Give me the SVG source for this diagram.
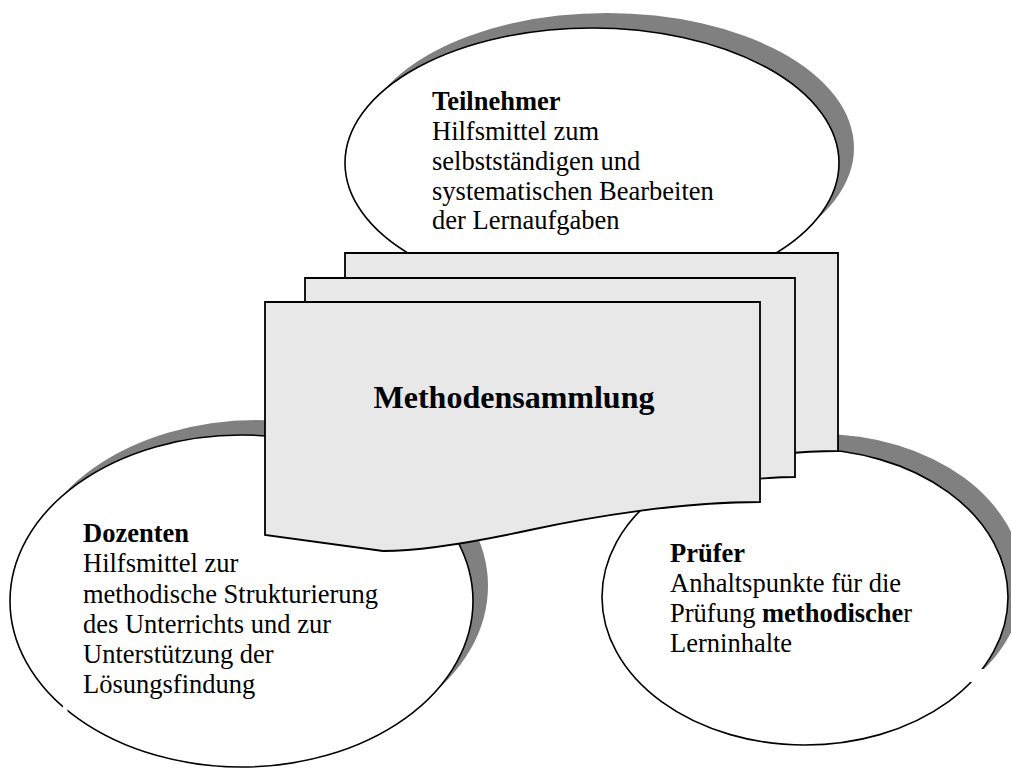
<svg xmlns="http://www.w3.org/2000/svg" width="1011" height="769" viewBox="0 0 1011 769">
  <style>
    .shadow { fill: #808080; stroke: none; }
    .bubble { fill: #ffffff; stroke: #000000; stroke-width: 1.6; }
    .sheet { fill: #e8e8e8; stroke: #000000; stroke-width: 1.8; stroke-linejoin: miter; }
    .txt { font-family: "Liberation Serif", "Times New Roman", serif; font-size: 26.5px; fill: #000000; }
    .b { font-weight: bold; }
    .title { font-family: "Liberation Serif", "Times New Roman", serif; font-size: 32px; font-weight: bold; fill: #000000; }
    .gap { fill: #ffffff; stroke: none; }
  </style>
  <rect x="0" y="0" width="1011" height="769" fill="#ffffff"/>

  <!-- Teilnehmer bubble (top) -->
  <g id="node-teilnehmer">
    <ellipse class="shadow" cx="607" cy="148" rx="247" ry="135"/>
    <ellipse class="bubble" cx="592" cy="163" rx="247" ry="135"/>
    <text class="txt" x="432" y="110"><tspan class="b">Teilnehmer</tspan></text>
    <text class="txt" x="432" y="140">Hilfsmittel zum</text>
    <text class="txt" x="432" y="170">selbstständigen und</text>
    <text class="txt" x="432" y="200">systematischen Bearbeiten</text>
    <text class="txt" x="432" y="229">der Lernaufgaben</text>
  </g>

  <!-- Dozenten bubble (bottom left) -->
  <g id="node-dozenten">
    <ellipse class="shadow" cx="256.5" cy="586" rx="231.5" ry="166"/>
    <ellipse class="bubble" cx="241.5" cy="601" rx="231.5" ry="166"/>
    <rect class="gap" x="63" y="706" width="4.5" height="16"/>
    <text class="txt" x="83" y="542"><tspan class="b">Dozenten</tspan></text>
    <text class="txt" x="83" y="572">Hilfsmittel zur</text>
    <text class="txt" x="83" y="603">methodische Strukturierung</text>
    <text class="txt" x="83" y="633">des Unterrichts und zur</text>
    <text class="txt" x="83" y="663">Unterstützung der</text>
    <text class="txt" x="83" y="693">Lösungsfindung</text>
  </g>

  <!-- Prüfer bubble (bottom right) -->
  <g id="node-pruefer">
    <ellipse class="shadow" cx="820" cy="582" rx="203" ry="148"/>
    <ellipse class="bubble" cx="805" cy="597" rx="203" ry="148"/>
    <rect class="gap" x="962" y="669" width="49" height="13"/>
    <text class="txt" x="670" y="562"><tspan class="b">Prüfer</tspan></text>
    <text class="txt" x="670" y="592">Anhaltspunkte für die</text>
    <text class="txt" x="670" y="622">Prüfung <tspan class="b">methodische</tspan>r</text>
    <text class="txt" x="670" y="652">Lerninhalte</text>
  </g>

  <!-- Methodensammlung: stacked document sheets -->
  <g id="node-methodensammlung">
    <path class="sheet" d="M345,253 H838 V451 C820,451 800,452 780,454 L430,500 L345,485 Z"/>
    <path class="sheet" d="M305,278 H795 V477 C780,477 770,478 755,479 L390,525 L305,510 Z"/>
    <path class="sheet" d="M265,302 H760 V502 C680,502 590,517 530,530 C470,543 420,551 383,551 L265,535 Z"/>
    <text class="title" x="514" y="408" text-anchor="middle">Methodensammlung</text>
  </g>
</svg>
